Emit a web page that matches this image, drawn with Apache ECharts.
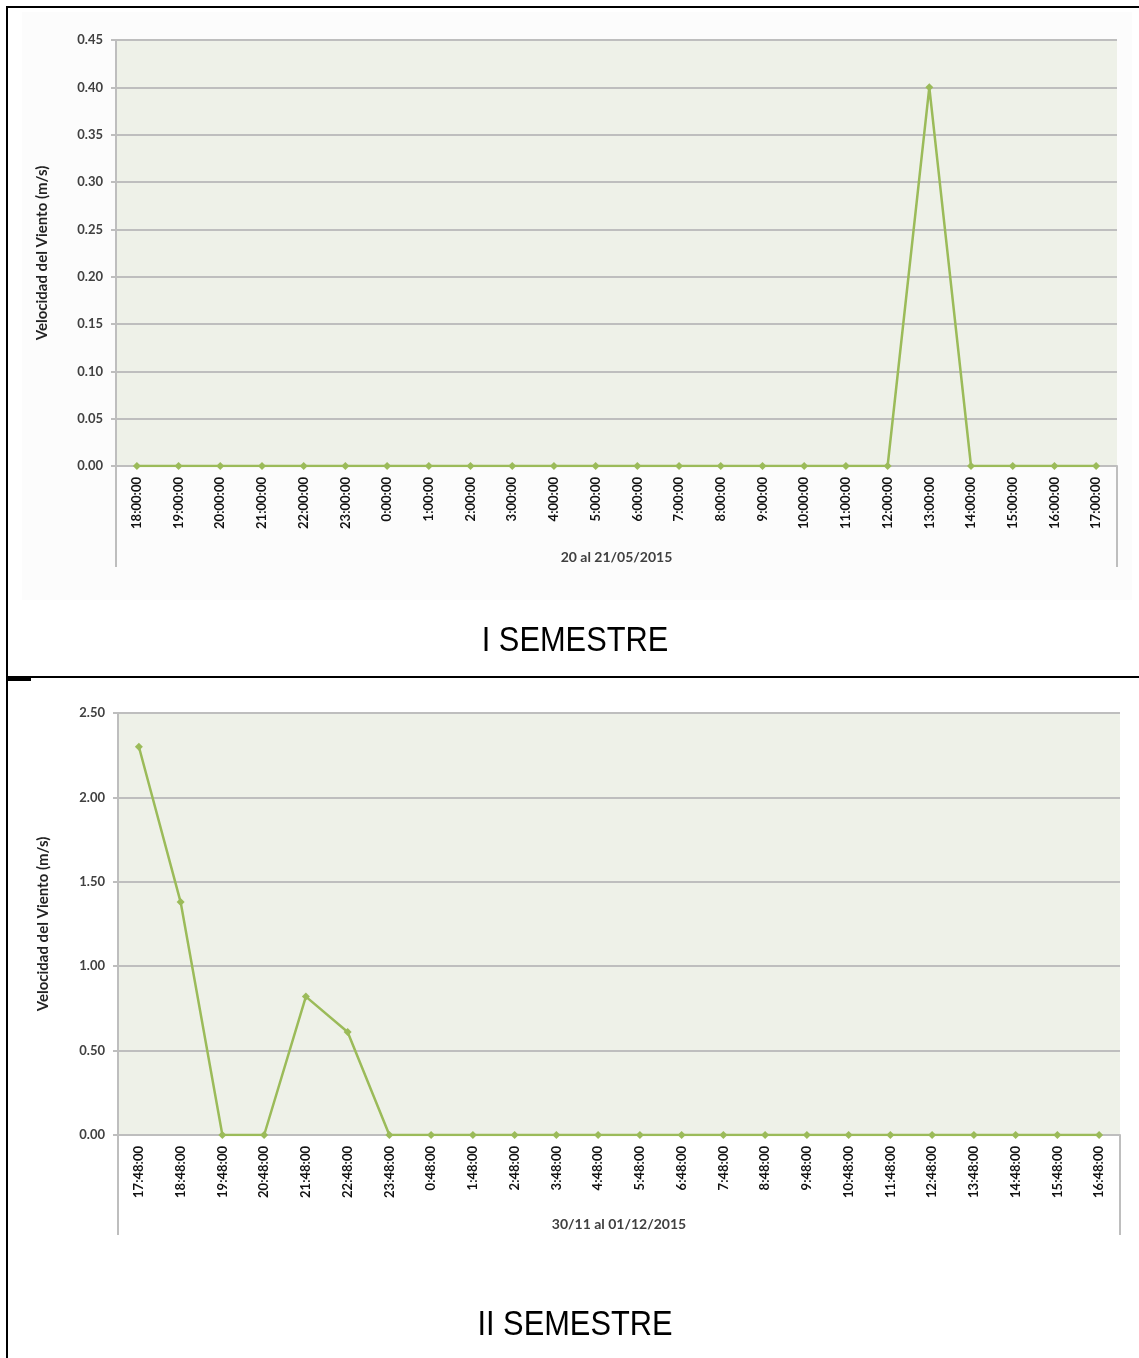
<!DOCTYPE html>
<html>
<head>
<meta charset="utf-8">
<script src="https://cdn.jsdelivr.net/npm/echarts@6/dist/echarts.min.js"></script>
<style>
  html, body { margin: 0; padding: 0; background: #ffffff; }
  #chart { width: 1139px; height: 1358px; }
</style>
</head>
<body>
<div id="chart"></div>
<script>
// Wind speed readings, first semester (20 al 21/05/2015)
const hours1 = ['18:00:00','19:00:00','20:00:00','21:00:00','22:00:00','23:00:00',
  '0:00:00','1:00:00','2:00:00','3:00:00','4:00:00','5:00:00','6:00:00','7:00:00',
  '8:00:00','9:00:00','10:00:00','11:00:00','12:00:00','13:00:00','14:00:00',
  '15:00:00','16:00:00','17:00:00'];
const speed1 = [0,0,0,0,0,0,0,0,0,0,0,0,0,0,0,0,0,0,0,0.40,0,0,0,0];

// Wind speed readings, second semester (30/11 al 01/12/2015)
const hours2 = ['17:48:00','18:48:00','19:48:00','20:48:00','21:48:00','22:48:00',
  '23:48:00','0:48:00','1:48:00','2:48:00','3:48:00','4:48:00','5:48:00','6:48:00',
  '7:48:00','8:48:00','9:48:00','10:48:00','11:48:00','12:48:00','13:48:00',
  '14:48:00','15:48:00','16:48:00'];
const speed2 = [2.30,1.38,0,0,0.82,0.61,0,0,0,0,0,0,0,0,0,0,0,0,0,0,0,0,0,0];

const dateLabel1 = '20 al 21/05/2015';
const dateLabel2 = '30/11 al 01/12/2015';
const yTitle = 'Velocidad del Viento (m/s)';
const panelTitles = ['I SEMESTRE', 'II SEMESTRE'];

const W = 1139, H = 1358;
const G1 = { left: 116, top: 40, width: 1001, height: 426 };
const G2 = { left: 118, top: 713, width: 1002, height: 422 };

const GREEN = '#9BBB59';
const GRID_GRAY = '#BEBEBE';
const TEXT = '#404040';
const FONT = 'Lato, "Open Sans", sans-serif';

function xAxisFor(gridIndex, cats, name, gap) {
  return {
    type: 'category', gridIndex, data: cats, boundaryGap: true,
    name, nameLocation: 'middle', nameGap: gap,
    nameTextStyle: { color: TEXT, fontFamily: FONT, fontWeight: 'bold', fontSize: 14 },
    axisLine: { show: true, lineStyle: { color: GRID_GRAY, width: 2 } },
    axisTick: { show: false },
    axisLabel: { rotate: 90, interval: 0, margin: 11, color: '#111', fontFamily: FONT,
      fontWeight: 'bold', fontSize: 13 },
    splitLine: { show: false }
  };
}

function yAxisFor(gridIndex, max, interval, gap) {
  return {
    type: 'value', gridIndex, min: 0, max, interval,
    name: yTitle, nameLocation: 'middle', nameGap: gap,
    nameTextStyle: { color: '#222', fontFamily: FONT, fontWeight: 'bold', fontSize: 15 },
    axisLine: { show: true, lineStyle: { color: GRID_GRAY, width: 2 } },
    axisTick: { show: true, length: 5, lineStyle: { color: GRID_GRAY, width: 2 } },
    axisLabel: { margin: 13, color: TEXT, fontFamily: FONT, fontWeight: 'bold', fontSize: 13,
      formatter: v => v.toFixed(2) },
    splitLine: { show: true, lineStyle: { color: GRID_GRAY, width: 2 } }
  };
}

function seriesFor(idx, data) {
  return {
    type: 'line', xAxisIndex: idx, yAxisIndex: idx, data,
    symbol: 'diamond', symbolSize: 8, showSymbol: true,
    lineStyle: { color: GREEN, width: 2.5 },
    itemStyle: { color: GREEN },
    emphasis: { disabled: true }, animation: false, z: 5
  };
}

// Category axis drop lines below the plot area, Excel style
function dropLines(g, len) {
  const bottom = g.top + g.height;
  const mk = x => ({ type: 'line', shape: { x1: x, y1: bottom, x2: x, y2: bottom + len },
    style: { stroke: GRID_GRAY, lineWidth: 2 }, silent: true });
  return [mk(g.left), mk(g.left + g.width)];
}

function caption(text, y) {
  return { type: 'text', x: 575, y, scaleX: 0.88,
    style: { text, fontFamily: '"Liberation Sans", Arial, sans-serif', fontSize: 35,
      fill: '#000', textAlign: 'center', textVerticalAlign: 'middle' } };
}

const graphics = [
  // faint chart-area backdrop for the first panel
  { type: 'rect', shape: { x: 22, y: 12, width: 1110, height: 588 },
    style: { fill: '#FCFCFC' }, z: -10, silent: true },
  // plot area fills
  { type: 'rect', shape: { x: G1.left, y: G1.top, width: G1.width, height: G1.height },
    style: { fill: '#EEF1E8' }, z: -5, silent: true },
  { type: 'rect', shape: { x: G2.left, y: G2.top, width: G2.width, height: G2.height },
    style: { fill: '#EEF1E8' }, z: -5, silent: true },
  ...dropLines(G1, 101),
  ...dropLines(G2, 100),
  // table borders
  { type: 'line', shape: { x1: 7, y1: 7, x2: W, y2: 7 }, style: { stroke: '#000', lineWidth: 2 } },
  { type: 'line', shape: { x1: 7, y1: 6, x2: 7, y2: H }, style: { stroke: '#000', lineWidth: 2 } },
  { type: 'line', shape: { x1: 7, y1: 677, x2: W, y2: 677 }, style: { stroke: '#000', lineWidth: 2 } },
  { type: 'rect', shape: { x: 7, y: 677, width: 24, height: 4 }, style: { fill: '#000' } },
  // panel captions
  caption(panelTitles[0], 641),
  caption(panelTitles[1], 1325)
];

const chart = echarts.init(document.getElementById('chart'), null, { renderer: 'canvas' });
chart.setOption({
  backgroundColor: '#ffffff',
  animation: false,
  grid: [
    { left: G1.left, top: G1.top, width: G1.width, height: G1.height, containLabel: false },
    { left: G2.left, top: G2.top, width: G2.width, height: G2.height, containLabel: false }
  ],
  xAxis: [xAxisFor(0, hours1, dateLabel1, 84), xAxisFor(1, hours2, dateLabel2, 82)],
  yAxis: [yAxisFor(0, 0.45, 0.05, 66), yAxisFor(1, 2.5, 0.5, 67)],
  series: [seriesFor(0, speed1), seriesFor(1, speed2)],
  graphic: graphics
});
</script>
</body>
</html>
